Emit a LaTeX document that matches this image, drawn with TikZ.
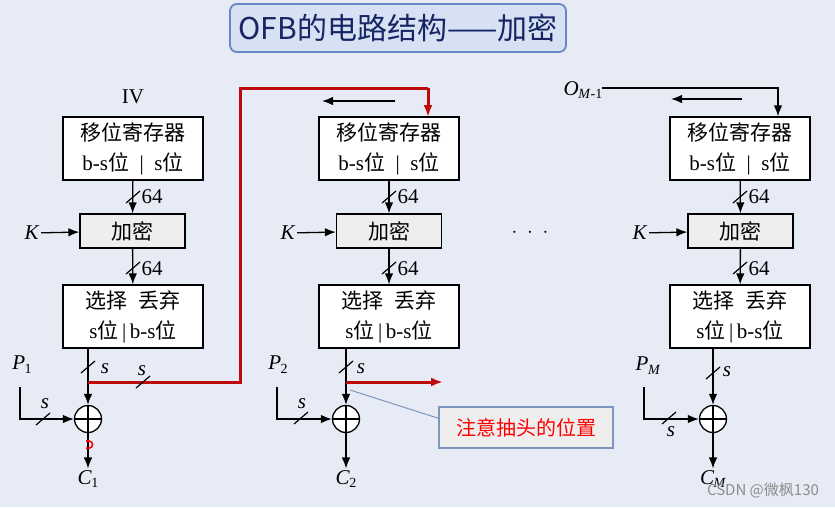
\documentclass[tikz,border=0pt]{standalone}
\usepackage{fontspec}
\setmainfont{Liberation Serif}
\newfontfamily\cjk{Noto Sans CJK SC}
\usetikzlibrary{arrows.meta,calc}
\definecolor{bgc}{RGB}{231,235,245}
\definecolor{titlefill}{RGB}{214,225,243}
\definecolor{titledraw}{RGB}{105,135,195}
\definecolor{titletext}{RGB}{22,38,100}
\definecolor{darkred}{RGB}{190,10,10}
\definecolor{notedraw}{RGB}{125,150,190}
\definecolor{graybox}{RGB}{238,238,238}
\newcommand\zh[1]{{\cjk #1}}
\newcommand\vlab[2]{\textit{#1}\kern-0.5pt\raisebox{-0.4ex}{\fontsize{14}{14}\selectfont #2}}
\begin{document}
\begin{tikzpicture}[x=1pt,y=-1pt,
  line width=1.3pt,
  arr/.style={-{Latex[length=11pt,width=8.5pt]}},
  redarr/.style={draw=darkred,line width=3pt,-{Latex[length=12pt,width=9pt]}},
  redline/.style={draw=darkred,line width=3pt},
  bigbox/.style={draw,fill=white,minimum width=140pt,minimum height=63pt,inner sep=0pt,align=center,font=\fontsize{21}{30}\selectfont},
  encbox/.style={draw,fill=graybox,minimum width=105pt,minimum height=34pt,inner sep=0pt,font=\fontsize{21}{22}\selectfont},
  xor/.style={circle,draw,fill=white,minimum size=27pt,inner sep=0pt,
    path picture={\draw (path picture bounding box.north) -- (path picture bounding box.south)
      (path picture bounding box.west) -- (path picture bounding box.east);}},
  lbl/.style={inner sep=1pt,font=\fontsize{21}{22}\selectfont},
  num/.style={inner sep=0pt,font=\fontsize{21}{22}\selectfont},
  slbl/.style={inner sep=0pt,font=\fontsize{21}{22}\selectfont\itshape},
  slashmark/.style={line width=1.2pt}
]
\fill[bgc] (0,0) rectangle (835,507);
\useasboundingbox (0,0) rectangle (835,507);

% title
\node[draw=titledraw,fill=titlefill,line width=1.8pt,rounded corners=7pt,
  minimum width=336pt,minimum height=48pt,text=titletext,
  font=\cjk\fontsize{30}{32}\selectfont] (title) at (398,28) {OFB的电路结构——加密};

% ================= column 1
\node[lbl] (iv) at (133,97) {IV};
\node[bigbox] (r1) at (133,148.5) {\zh{移位寄存器}\\b-s\zh{位}\ \ |\ \ s\zh{位}};
\node[encbox] (e1) at (132.5,231) {\zh{加密}};
\node[bigbox] (s1) at (133,316.5) {\zh{选择}\ \ \zh{丢弃}\\s\zh{位}\,|\,b-s\zh{位}};
\node[lbl] (k1) at (32,233) {\textit{K}};
\draw[arr] (r1) -- (e1);
\draw[arr] (e1) -- (s1);
\draw[arr] (k1) -- (e1);
\draw[slashmark] (133,197) ++(-7,6) -- ++(14,-12);
\draw[slashmark] (133,268) ++(-7,6) -- ++(14,-12);
\node[num] (n1a) at (152,197) {64};
\node[num] (n1b) at (152,269) {64};

\node[xor] (x1) at (88,419) {};
\coordinate (t1) at (88,382);
\draw[arr] (s1.south -| x1) -- (x1);
\draw[slashmark] (88,367) ++(-7,6) -- ++(14,-12);
\node[slbl] (sv1) at (105,369) {s};

\node[lbl] (p1) at (22,365) {\vlab{P}{1}};
\coordinate (pp1) at (20,387);
\coordinate (pc1) at (20,419);
\draw[arr] (pp1) -- (pc1) -- (x1);
\draw[slashmark] (43,419) ++(-7,6) -- ++(14,-12);
\node[slbl] (sh1) at (45,404) {s};

\node[lbl] (c1) at (88,479) {\vlab{C}{1}};
\draw[arr] (x1) -- (c1);
\draw[red,line width=1.6pt] (86,441) -- (89,441) arc (-90:90:3.6) -- (86,448.2);

% red feedback
\coordinate (rb1) at (240,382);
\coordinate (rb2) at (240,88);
\coordinate (rb3) at (428,88);
\draw[redline] (t1) -- (rb1) -- (rb2) -- (rb3);
\draw[redarr] (rb3) -- (rb3 |- 0,117);
\draw[slashmark] (143,382) ++(-7,6) -- ++(14,-12);
\node[slbl] (sr1) at (142,371) {s};

% ================= column 2
\node[bigbox] (r2) at (389,148.5) {\zh{移位寄存器}\\b-s\zh{位}\ \ |\ \ s\zh{位}};
\node[encbox] (e2) at (389,231) {\zh{加密}};
\node[bigbox] (s2) at (389,316.5) {\zh{选择}\ \ \zh{丢弃}\\s\zh{位}\,|\,b-s\zh{位}};
\node[lbl] (k2) at (288,233) {\textit{K}};
\draw[arr] (r2) -- (e2);
\draw[arr] (e2) -- (s2);
\draw[arr] (k2) -- (e2);
\draw[slashmark] (389,197) ++(-7,6) -- ++(14,-12);
\draw[slashmark] (389,268) ++(-7,6) -- ++(14,-12);
\node[num] (n2a) at (408,197) {64};
\node[num] (n2b) at (408,269) {64};
\coordinate (la1) at (395,101);
\coordinate (la2) at (322,101);
\draw[arr] (la1) -- (la2);

\node[xor] (x2) at (346,419) {};
\coordinate (t2) at (346,382);
\coordinate (t2e) at (443,382);
\draw[arr] (s2.south -| x2) -- (x2);
\draw[redarr] (t2) -- (t2e);
\draw[slashmark] (346,367) ++(-7,6) -- ++(14,-12);
\node[slbl] (sv2) at (361,369) {s};

\node[lbl] (p2) at (278,365) {\vlab{P}{2}};
\coordinate (pp2) at (277,387);
\coordinate (pc2) at (277,419);
\draw[arr] (pp2) -- (pc2) -- (x2);
\draw[slashmark] (301,418) ++(-7,6) -- ++(14,-12);
\node[slbl] (sh2) at (302,404) {s};

\node[lbl] (c2) at (346,479) {\vlab{C}{2}};
\draw[arr] (x2) -- (c2);

\node[draw=notedraw,fill=graybox,line width=1.1pt,minimum width=174pt,minimum height=41pt,
  text=red,font=\cjk\fontsize{20}{22}\selectfont] (note) at (526,427.5) {注意抽头的位置};
\coordinate (tap2) at (350,390);
\draw[draw=notedraw,line width=1pt] (tap2) -- (note.174);

\node[lbl] (dots) at (530,233) {$\cdot\ \cdot\ \cdot$};

% ================= column 3
\node[lbl] (om) at (583,90) {\vlab{O}{\textit{M}-1}};
\node[bigbox] (r3) at (740,148.5) {\zh{移位寄存器}\\b-s\zh{位}\ \ |\ \ s\zh{位}};
\node[encbox] (e3) at (740.5,231) {\zh{加密}};
\node[bigbox] (s3) at (740,316.5) {\zh{选择}\ \ \zh{丢弃}\\s\zh{位}\,|\,b-s\zh{位}};
\node[lbl] (k3) at (640,233) {\textit{K}};
\draw[arr] (r3) -- (e3);
\draw[arr] (e3) -- (s3);
\draw[arr] (k3) -- (e3);
\draw[slashmark] (740,197) ++(-7,6) -- ++(14,-12);
\draw[slashmark] (740,268) ++(-7,6) -- ++(14,-12);
\node[num] (n3a) at (759,197) {64};
\node[num] (n3b) at (759,269) {64};
\coordinate (om1) at (602,88);
\coordinate (om2) at (778,88);
\draw[arr] (om1) -- (om2) -- (om2 |- r3.north);
\coordinate (lb1) at (742,99);
\coordinate (lb2) at (671,99);
\draw[arr] (lb1) -- (lb2);

\node[xor] (x3) at (713,419) {};
\draw[arr] (s3.south -| x3) -- (x3);
\draw[slashmark] (713,373) ++(-7,6) -- ++(14,-12);
\node[slbl] (sv3) at (727,372) {s};

\node[lbl] (p3) at (648,366) {\vlab{P}{\textit{M}}};
\coordinate (pp3) at (644,387);
\coordinate (pc3) at (644,419);
\draw[arr] (pp3) -- (pc3) -- (x3);
\draw[slashmark] (669,418) ++(-7,6) -- ++(14,-12);
\node[slbl] (sh3) at (671,432) {s};

\node[lbl] (c3) at (713,479) {\vlab{C}{\textit{M}}};
\draw[arr] (x3) -- (c3);

\node[text=black!45,font=\cjk\fontsize{15}{16}\selectfont,inner sep=0pt] (wm) at (763,490) {CSDN @微枫130};
\end{tikzpicture}
\end{document}
